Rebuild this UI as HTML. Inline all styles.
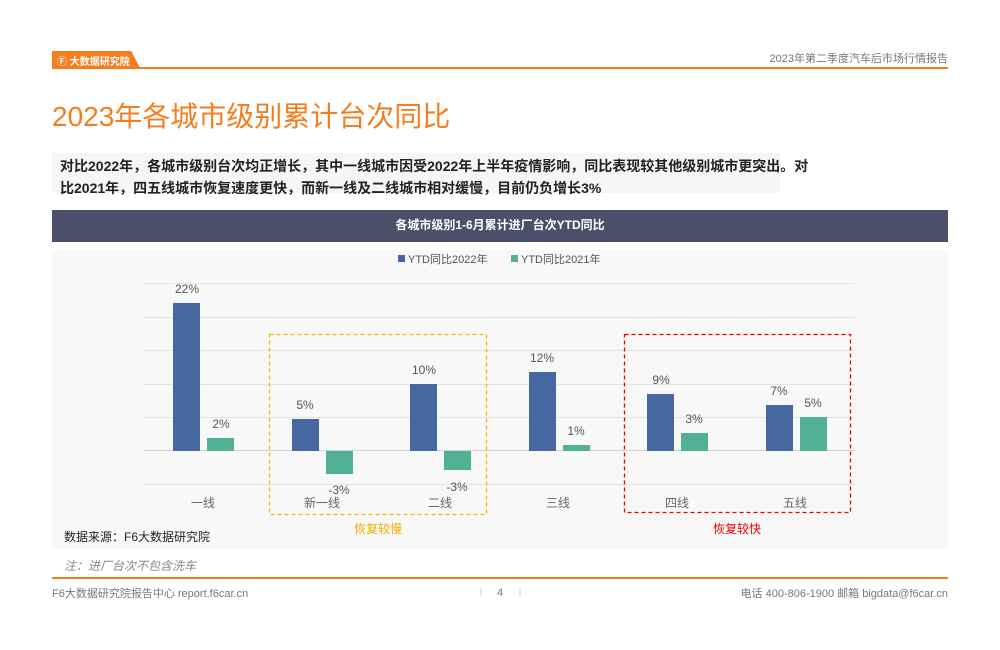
<!DOCTYPE html>
<html><head><meta charset="utf-8"><style>
body{margin:0;width:1000px;height:650px;background:#fff;font-family:"Liberation Sans","Noto Sans CJK SC",sans-serif;position:relative;overflow:hidden}
.a{position:absolute}
</style></head><body>
<div class="a" style="left:52px;top:51px;width:88px;height:17px;background:#f47d1f;clip-path:polygon(0 0,90% 0,100% 100%,0 100%)"></div>
<div class="a" style="left:57px;top:53px;color:#fff;font-size:10px;font-weight:bold;white-space:nowrap">Ⓕ 大数据研究院</div>
<div class="a" style="left:52px;top:67px;width:896px;height:2px;background:#f47d1f"></div>
<div class="a" style="right:52px;top:50px;color:#777;font-size:11px">2023年第二季度汽车后市场行情报告</div>
<div class="a" style="left:52px;top:95px;color:#f47d1f;font-size:28px">2023年各城市级别累计台次同比</div>
<div class="a" style="left:52px;top:153px;width:728px;height:40px;background:#f6f6f6"></div>
<div class="a" style="left:60px;top:155px;color:#222;font-size:14px;font-weight:bold;line-height:22px;width:900px">对比2022年，各城市级别台次均正增长，其中一线城市因受2022年上半年疫情影响，同比表现较其他级别城市更突出。对<br>比2021年，四五线城市恢复速度更快，而新一线及二线城市相对缓慢，目前仍负增长3%</div>
<div class="a" style="left:52px;top:210px;width:896px;height:32px;background:#4a506a;color:#fff;font-size:12px;text-align:center;line-height:31px;font-weight:bold">各城市级别1-6月累计进厂台次YTD同比</div>
<div class="a" style="left:52px;top:250px;width:896px;height:299px;background:#f8f8f8"></div>
<svg class="a" style="left:0;top:0" width="1000" height="650">
<g stroke="#e2e2e2" stroke-width="1">
<line x1="144" x2="855" y1="283.5" y2="283.5"/><line x1="144" x2="855" y1="317.5" y2="317.5"/><line x1="144" x2="855" y1="350.5" y2="350.5"/><line x1="144" x2="855" y1="384.5" y2="384.5"/><line x1="144" x2="855" y1="417.5" y2="417.5"/><line x1="144" x2="855" y1="484.5" y2="484.5"/>
<line x1="144" x2="855" y1="450.5" y2="450.5" stroke="#d4d4d4"/></g>
<g fill="#44689f">
<rect x="173" y="303" width="27" height="148"/><rect x="292" y="419" width="27" height="32"/><rect x="410" y="384" width="27" height="67"/><rect x="529" y="372" width="27" height="79"/><rect x="647" y="394" width="27" height="57"/><rect x="766" y="405" width="27" height="46"/></g>
<g fill="#52b096">
<rect x="207" y="438" width="27" height="13"/><rect x="326" y="451" width="27" height="23"/><rect x="444" y="451" width="27" height="19"/><rect x="563" y="445" width="27" height="6"/><rect x="681" y="433" width="27" height="18"/><rect x="800" y="417" width="27" height="34"/></g>
<g font-size="12" fill="#555" text-anchor="middle">
<text x="187" y="293">22%</text><text x="221" y="428">2%</text>
<text x="305" y="409">5%</text><text x="339" y="494">-3%</text>
<text x="424" y="374">10%</text><text x="457" y="491">-3%</text>
<text x="542" y="362">12%</text><text x="576" y="435">1%</text>
<text x="661" y="384">9%</text><text x="694" y="423">3%</text>
<text x="779" y="395">7%</text><text x="813" y="407">5%</text>
<g font-size="12" fill="#666"><text x="203" y="507">一线</text><text x="322" y="507">新一线</text><text x="440" y="507">二线</text><text x="558" y="507">三线</text><text x="677" y="507">四线</text><text x="795" y="507">五线</text></g>
<text x="378" y="533" font-size="12" fill="#f0b000">恢复较慢</text>
<text x="737" y="533" font-size="12" fill="#e00">恢复较快</text></g>
<rect x="269.5" y="334.5" width="217" height="180" fill="none" stroke="#f2b800" stroke-width="1.3" stroke-dasharray="4,3"/>
<rect x="624.5" y="334.5" width="226" height="178" fill="none" stroke="#e00" stroke-width="1.3" stroke-dasharray="4,3"/>
<rect x="398" y="255" width="7" height="7" fill="#44689f"/><text x="408" y="263" font-size="11" fill="#555">YTD同比2022年</text>
<rect x="511" y="255" width="7" height="7" fill="#52b096"/><text x="521" y="263" font-size="11" fill="#555">YTD同比2021年</text>
<text x="64" y="541" font-size="12" fill="#222">数据来源：F6大数据研究院</text>
<text x="64" y="570" font-size="12" fill="#888" font-style="italic">注：进厂台次不包含洗车</text>
<rect x="52" y="577" width="896" height="2" fill="#f47d1f"/>
<text x="52" y="597" font-size="11" fill="#777">F6大数据研究院报告中心 report.f6car.cn</text>
<text x="500" y="596" font-size="11" fill="#777" text-anchor="middle">4</text>
<line x1="481" x2="481" y1="588" y2="596" stroke="#ccc"/><line x1="520" x2="520" y1="588" y2="596" stroke="#ccc"/>
<text x="948" y="597" font-size="11" fill="#777" text-anchor="end">电话 400-806-1900  邮箱 bigdata@f6car.cn</text>
</svg>
</body></html>
